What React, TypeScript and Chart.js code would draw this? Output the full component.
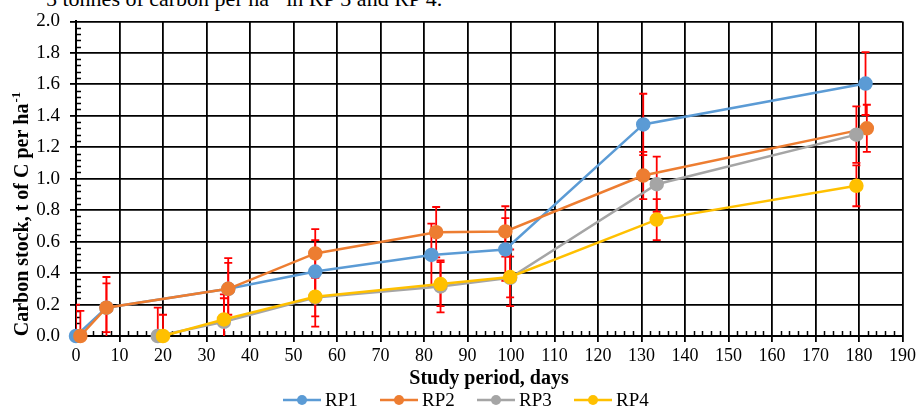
import React, { useEffect, useRef } from "react";
import { Chart, registerables } from "chart.js";

Chart.register(...registerables);

const seriesNames = ["RP1", "RP2", "RP3", "RP4"];
const seriesColors = ["#5B9BD5", "#ED7D31", "#A5A5A5", "#FFC000"];

const rp1Days = [0, 7, 35, 55, 81.7, 98.7, 130.4, 181.5];
const rp1Values = [0, 0.18, 0.3, 0.41, 0.515, 0.55, 1.345, 1.605];
const rp1Errors = [0.2, 0.155, 0.165, 0.2, 0.2, 0.2, 0.195, 0.2];

const rp2Days = [1, 7, 35, 55, 82.8, 98.7, 130.4, 181.8];
const rp2Values = [0, 0.18, 0.3, 0.525, 0.66, 0.665, 1.02, 1.32];
const rp2Errors = [0.16, 0.195, 0.195, 0.155, 0.16, 0.16, 0.15, 0.15];

const rp3Days = [18.8, 34, 55, 83.8, 99.8, 133.5, 179.4];
const rp3Values = [0, 0.09, 0.245, 0.315, 0.37, 0.965, 1.28];
const rp3Errors = [0.18, 0.175, 0.185, 0.165, 0.18, 0.175, 0.18];

const rp4Days = [20, 34, 55, 83.8, 99.8, 133.5, 179.4];
const rp4Values = [0, 0.105, 0.25, 0.33, 0.375, 0.74, 0.955];
const rp4Errors = [0.135, 0.135, 0.125, 0.14, 0.13, 0.13, 0.13];

const xTitle = "Study period, days";
const yTitleMain = "Carbon stock, t of C per ha";
const yTitleSup = "-1";

const SERIF = "'Liberation Serif', 'Times New Roman', serif";

const allDays = [rp1Days, rp2Days, rp3Days, rp4Days];
const allValues = [rp1Values, rp2Values, rp3Values, rp4Values];
const allErrors = [rp1Errors, rp2Errors, rp3Errors, rp4Errors];

const errorBarPlugin = {
  id: "errorBars",
  beforeDatasetsDraw(chart: any) {
    const { ctx, chartArea, scales } = chart;
    const xs = scales.x;
    const ys = scales.y;
    ctx.save();
    ctx.beginPath();
    ctx.rect(chartArea.left, chartArea.top - 1, chartArea.right - chartArea.left, chartArea.bottom - chartArea.top + 1);
    ctx.clip();
    ctx.strokeStyle = "#FF0000";
    ctx.lineWidth = 1.8;
    allDays.forEach((days, i) => {
      days.forEach((d, j) => {
        const v = allValues[i][j];
        const e = allErrors[i][j];
        const px = xs.getPixelForValue(d);
        const top = ys.getPixelForValue(v + e);
        const bot = ys.getPixelForValue(v - e);
        ctx.beginPath();
        ctx.moveTo(px, top);
        ctx.lineTo(px, bot);
        ctx.moveTo(px - 4, top);
        ctx.lineTo(px + 4, top);
        ctx.moveTo(px - 4, bot);
        ctx.lineTo(px + 4, bot);
        ctx.stroke();
      });
    });
    ctx.restore();
  },
};

const minorTickPlugin = {
  id: "minorTicks",
  beforeDatasetsDraw(chart: any) {
    const { ctx, chartArea, scales } = chart;
    const xs = scales.x;
    const ys = scales.y;
    ctx.save();
    ctx.strokeStyle = "#000";
    ctx.lineWidth = 1.5;
    ctx.beginPath();
    for (let k = 0; k <= 50; k++) {
      if (k % 5 === 0) continue;
      const py = Math.round(ys.getPixelForValue(k * 0.04)) + 0.5;
      ctx.moveTo(chartArea.left, py);
      ctx.lineTo(chartArea.left + 5, py);
    }
    for (let k = 0; k <= 95; k++) {
      if (k % 5 === 0) continue;
      const px = Math.round(xs.getPixelForValue(k * 2)) + 0.5;
      ctx.moveTo(px, chartArea.bottom);
      ctx.lineTo(px, chartArea.bottom - 5);
    }
    ctx.stroke();
    ctx.restore();
  },
};

const titlesLegendPlugin = {
  id: "titlesLegend",
  afterDraw(chart: any) {
    const { ctx } = chart;
    ctx.save();
    ctx.fillStyle = "#000";
    // x title
    ctx.font = `bold 20px ${SERIF}`;
    ctx.textAlign = "center";
    ctx.textBaseline = "middle";
    ctx.fillText(xTitle, 489, 379);
    // y title
    ctx.translate(22, 214);
    ctx.rotate(-Math.PI / 2);
    ctx.font = `bold 20px ${SERIF}`;
    const wMain = ctx.measureText(yTitleMain).width;
    ctx.font = `bold 13px ${SERIF}`;
    const wSup = ctx.measureText(yTitleSup).width;
    const total = wMain + wSup + 1;
    ctx.textAlign = "left";
    ctx.textBaseline = "alphabetic";
    ctx.font = `bold 20px ${SERIF}`;
    ctx.fillText(yTitleMain, -total / 2, 6);
    ctx.font = `bold 13px ${SERIF}`;
    ctx.fillText(yTitleSup, -total / 2 + wMain + 1, -2);
    ctx.restore();

    // legend
    ctx.save();
    ctx.font = `19px ${SERIF}`;
    ctx.textBaseline = "middle";
    ctx.textAlign = "left";
    const ly = 400;
    seriesNames.forEach((name, i) => {
      const x0 = 283 + i * 97;
      ctx.strokeStyle = seriesColors[i];
      ctx.lineWidth = 2.5;
      ctx.beginPath();
      ctx.moveTo(x0, ly);
      ctx.lineTo(x0 + 38, ly);
      ctx.stroke();
      ctx.fillStyle = seriesColors[i];
      ctx.beginPath();
      ctx.arc(x0 + 19, ly, 5, 0, Math.PI * 2);
      ctx.fill();
      ctx.fillStyle = "#000";
      ctx.fillText(name, x0 + 42, ly + 1);
    });
    ctx.restore();
  },
};

export default function App() {
  const canvasRef = useRef<HTMLCanvasElement | null>(null);

  useEffect(() => {
    if (!canvasRef.current) return;
    const datasets = seriesNames.map((name, i) => ({
      label: name,
      data: allDays[i].map((d, j) => ({ x: d, y: allValues[i][j] })),
      borderColor: seriesColors[i],
      backgroundColor: seriesColors[i],
      pointBackgroundColor: seriesColors[i],
      pointBorderColor: seriesColors[i],
      borderWidth: 2.5,
      pointRadius: 6,
      pointHoverRadius: 6,
      tension: 0,
      order: 3 - i,
      clip: false as any,
    }));
    const chart = new Chart(canvasRef.current, {
      type: "line",
      data: { datasets },
      options: {
        responsive: false,
        animation: false,
        layout: { padding: { top: 16, right: 16, left: 0, bottom: 0 } },
        plugins: {
          legend: { display: false },
          tooltip: { enabled: false },
          title: { display: false },
        },
        scales: {
          x: {
            type: "linear",
            min: 0,
            max: 190,
            ticks: {
              stepSize: 10,
              color: "#000",
              font: { family: SERIF, size: 18 },
              padding: 3,
              maxRotation: 0,
              autoSkip: false,
            },
            grid: { color: "#000", lineWidth: 1.8, tickLength: 6, drawTicks: true },
            border: { display: true, color: "#000", width: 2 },
            afterFit: (s: any) => {
              s.height = 75;
            },
          },
          y: {
            type: "linear",
            min: 0,
            max: 2,
            ticks: {
              stepSize: 0.2,
              color: "#000",
              font: { family: SERIF, size: 19 },
              padding: 10,
              callback: (v: any) => Number(v).toFixed(1),
            },
            grid: { color: "#000", lineWidth: 1.8, tickLength: 6, drawTicks: true },
            border: { display: true, color: "#000", width: 2 },
            afterFit: (s: any) => {
              s.width = 76;
            },
          },
        },
      },
      plugins: [minorTickPlugin, errorBarPlugin, titlesLegendPlugin],
    });
    return () => chart.destroy();
  }, []);

  return (
    <div style={{ position: "absolute", left: 0, top: 0, width: 919, height: 411, background: "#fff", overflow: "hidden" }}>
      <div
        style={{
          position: "absolute",
          left: 46,
          top: -19,
          fontFamily: SERIF,
          fontSize: 22,
          whiteSpace: "nowrap",
          color: "#000",
          lineHeight: "25px",
        }}
      >
        5 tonnes of carbon per ha<sup style={{ fontSize: 14 }}>-1</sup> in RP 3 and RP 4.
      </div>
      <canvas ref={canvasRef} width={919} height={411} style={{ position: "absolute", left: 0, top: 0, width: 919, height: 411 }} />
    </div>
  );
}
